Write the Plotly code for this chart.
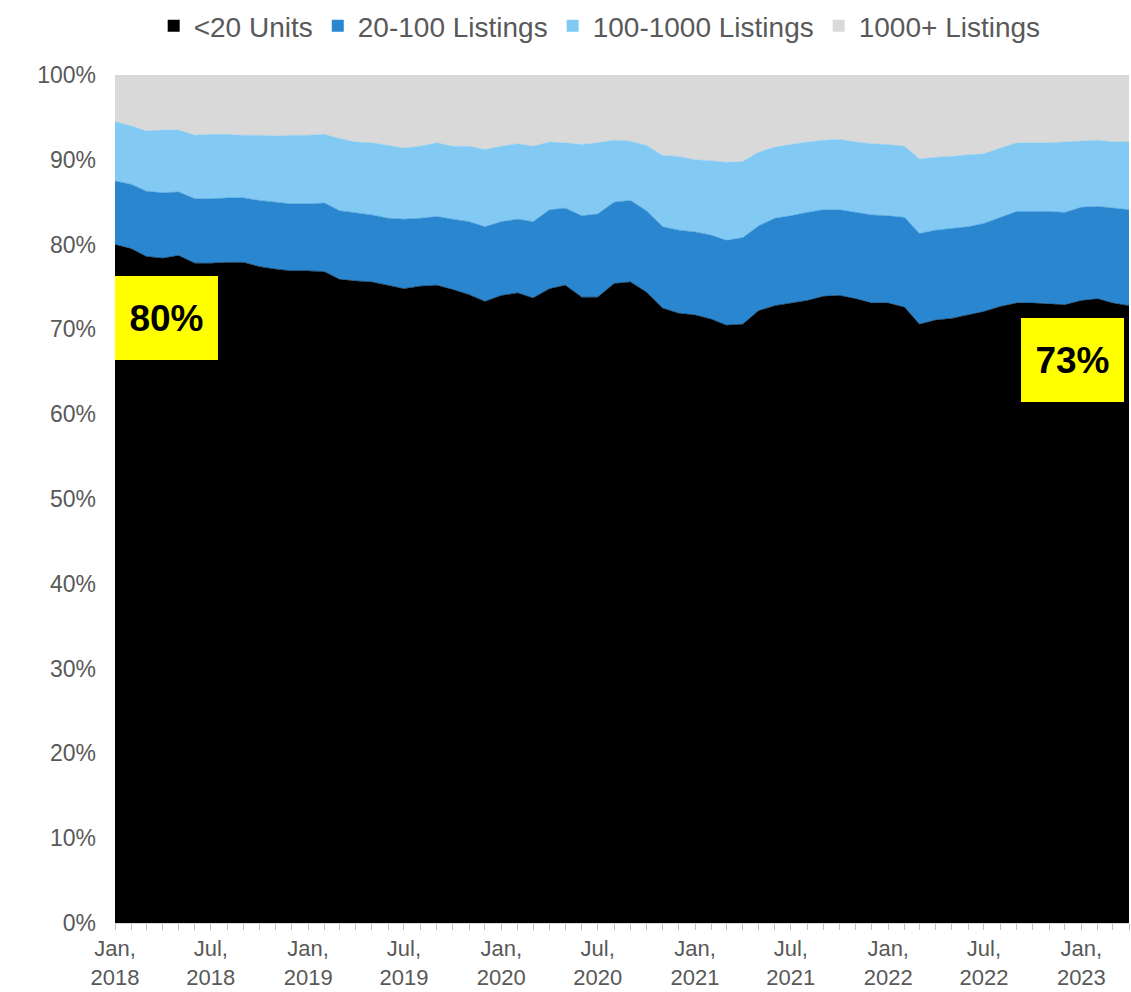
import pandas as pd
import plotly.graph_objects as go

# Monthly share of short-term rental listings by host portfolio size (Jan 2018 - Apr 2023)
months = pd.date_range("2018-01-01", "2023-04-01", freq="MS")

lt20_units = [
    80.0, 79.5, 78.6, 78.4, 78.7, 77.8, 77.8, 77.9, 77.9, 77.4, 77.1, 76.9,
    76.9, 76.8, 75.9, 75.7, 75.6, 75.2, 74.8, 75.1, 75.2, 74.7, 74.1, 73.3,
    74.0, 74.3, 73.7, 74.8, 75.2, 73.8, 73.8, 75.4, 75.6, 74.4, 72.5, 71.9,
    71.7, 71.2, 70.5, 70.6, 72.2, 72.8, 73.1, 73.4, 73.9, 74.0, 73.6, 73.1,
    73.1, 72.6, 70.6, 71.1, 71.3, 71.7, 72.1, 72.7, 73.1, 73.1, 73.0, 72.9,
    73.4, 73.6, 73.1, 72.8,
]
listings_20_100 = [
    7.5, 7.6, 7.7, 7.7, 7.5, 7.6, 7.6, 7.6, 7.6, 7.8, 7.9, 7.9,
    7.9, 8.1, 8.1, 8.0, 7.9, 7.9, 8.2, 8.0, 8.1, 8.3, 8.6, 8.8,
    8.7, 8.7, 9.0, 9.3, 9.1, 9.6, 9.8, 9.6, 9.6, 9.6, 9.6, 9.8,
    9.8, 9.9, 10.0, 10.2, 10.0, 10.3, 10.3, 10.4, 10.2, 10.1, 10.2, 10.4,
    10.3, 10.6, 10.7, 10.6, 10.6, 10.4, 10.4, 10.5, 10.8, 10.8, 10.9, 10.9,
    11.0, 10.9, 11.2, 11.3,
]
listings_100_1000 = [
    7.0, 6.9, 7.1, 7.4, 7.3, 7.5, 7.6, 7.5, 7.4, 7.7, 7.8, 8.1,
    8.1, 8.1, 8.5, 8.4, 8.5, 8.6, 8.4, 8.5, 8.7, 8.6, 8.9, 9.1,
    8.9, 8.9, 8.9, 8.0, 7.7, 8.4, 8.4, 7.3, 7.0, 7.7, 8.4, 8.7,
    8.5, 8.8, 9.2, 9.0, 8.7, 8.4, 8.4, 8.3, 8.2, 8.3, 8.3, 8.4,
    8.4, 8.4, 8.8, 8.6, 8.5, 8.5, 8.2, 8.2, 8.1, 8.1, 8.1, 8.3,
    7.8, 7.8, 7.8, 8.0,
]
listings_1000_plus = [
    5.5, 6.0, 6.6, 6.5, 6.5, 7.1, 7.0, 7.0, 7.1, 7.1, 7.2, 7.1,
    7.1, 7.0, 7.5, 7.9, 8.0, 8.3, 8.6, 8.4, 8.0, 8.4, 8.4, 8.8,
    8.4, 8.1, 8.4, 7.9, 8.0, 8.2, 8.0, 7.7, 7.8, 8.3, 9.5, 9.6,
    10.0, 10.1, 10.3, 10.2, 9.1, 8.5, 8.2, 7.9, 7.7, 7.6, 7.9, 8.1,
    8.2, 8.4, 9.9, 9.7, 9.6, 9.4, 9.3, 8.6, 8.0, 8.0, 8.0, 7.9,
    7.8, 7.7, 7.9, 7.9,
]

series_names = ["<20 Units", "20-100 Listings", "100-1000 Listings", "1000+ Listings"]
series_values = [lt20_units, listings_20_100, listings_100_1000, listings_1000_plus]
series_colors = ["#000000", "#2986cf", "#82caf3", "#d9d9d9"]

tick_vals = ["2018-01-01", "2018-07-01", "2019-01-01", "2019-07-01", "2020-01-01",
             "2020-07-01", "2021-01-01", "2021-07-01", "2022-01-01", "2022-07-01",
             "2023-01-01"]
tick_text = ["Jan,<br>2018", "Jul,<br>2018", "Jan,<br>2019", "Jul,<br>2019", "Jan,<br>2020",
             "Jul,<br>2020", "Jan,<br>2021", "Jul,<br>2021", "Jan,<br>2022", "Jul,<br>2022",
             "Jan,<br>2023"]

GREY_TEXT = "#595959"
FONT = "Liberation Sans, Arial, sans-serif"

fig = go.Figure()
for name, vals, color in zip(series_names, series_values, series_colors):
    fig.add_trace(go.Scatter(
        x=months, y=vals, name=name, mode="lines",
        stackgroup="share", groupnorm="percent",
        line=dict(width=0.5, color=color), fillcolor=color,
        showlegend=False, hoverinfo="x+y+name",
    ))

# Square legend keys for the four bands
for name, color in zip(series_names, series_colors):
    fig.add_trace(go.Scatter(
        x=[None], y=[None], name=name, mode="markers",
        marker=dict(symbol="square", size=12, color=color),
        showlegend=True, hoverinfo="skip",
    ))

# Callouts for the first and last share of small hosts
box_style = dict(
    bgcolor="#ffff00", showarrow=False, borderpad=0, borderwidth=0,
    font=dict(family=FONT, size=37, color="#000000"),
    width=103, height=84, align="center", valign="middle",
    xref="x", yref="y", yanchor="top",
)
fig.add_annotation(x=months[0], y=lt20_units[0], text=f"<b>{lt20_units[0]:.0f}%</b>",
                   xanchor="left", yshift=-31, **box_style)
fig.add_annotation(x=months[-1], y=lt20_units[-1], text=f"<b>{lt20_units[-1]:.0f}%</b>",
                   xanchor="right", xshift=-5, yshift=-12, **box_style)

fig.update_layout(
    width=1131, height=992,
    margin=dict(l=115, r=2, t=74, b=69),
    paper_bgcolor="white", plot_bgcolor="white",
    font=dict(family=FONT, color=GREY_TEXT),
    showlegend=True,
    legend=dict(
        orientation="h", x=0.478, xanchor="center", y=1.086, yanchor="top",
        font=dict(family=FONT, size=28, color=GREY_TEXT),
        traceorder="normal", itemwidth=30, tracegroupgap=0,
    ),
    hovermode="x unified",
)
fig.update_xaxes(
    type="date", range=[months[0], months[-1]],
    tickvals=tick_vals, ticktext=tick_text,
    tickfont=dict(family=FONT, size=22, color=GREY_TEXT),
    ticks="outside", ticklen=6, tickcolor="#bfbfbf",
    minor=dict(dtick="M1", tick0="2018-01-01", ticks="outside", ticklen=6, tickcolor="#bfbfbf"),
    showline=True, linecolor="#d9d9d9", linewidth=1,
    showgrid=False, zeroline=False,
)
fig.update_yaxes(
    range=[0, 100], dtick=10, ticksuffix="%",
    tickfont=dict(family=FONT, size=23, color=GREY_TEXT),
    showgrid=False, zeroline=False, showline=False,
    ticks="", ticklabelstandoff=18,
)

fig.write_html("out.html")
